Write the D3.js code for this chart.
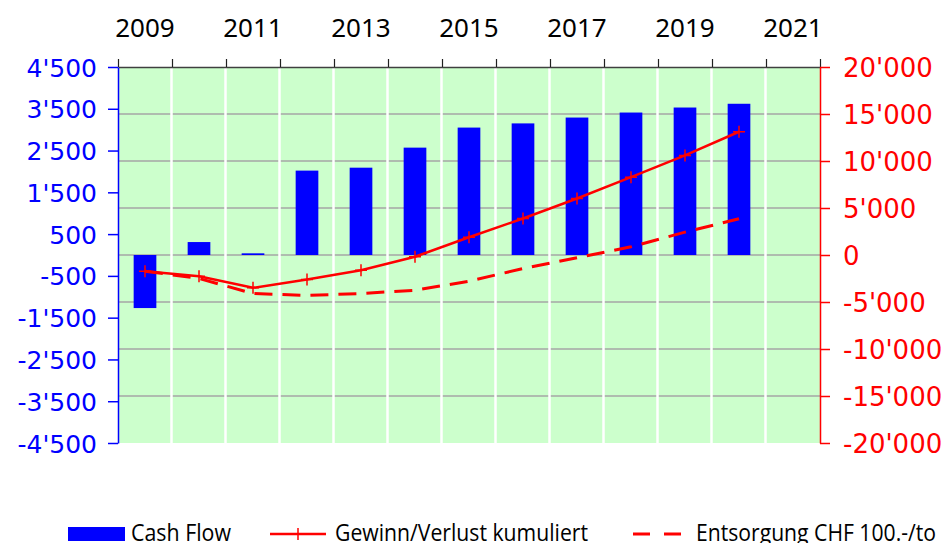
<!DOCTYPE html>
<html>
<head>
<meta charset="utf-8">
<script src="https://cdn.jsdelivr.net/npm/d3@7"></script>
<style>
  html, body { margin: 0; padding: 0; background: #ffffff; }
  #container { width: 947px; height: 543px; overflow: hidden; }
</style>
</head>
<body>
<div id="container"></div>
<script>
//### DATA ###
const years = [ 2009, 2010, 2011, 2012, 2013, 2014, 2015, 2016, 2017, 2018, 2019, 2020, 2021 ];
const yearLabels = [ 2009, 2011, 2013, 2015, 2017, 2019, 2021 ];
//--- Cash Flow (left axis), 2009 - 2020
const cashFlow = [ -1270, 310, 40, 2020, 2090, 2570, 3050, 3150, 3290, 3410, 3530, 3620 ];
//--- Gewinn/Verlust kumuliert (right axis)
const gewinnKumuliert = [ -1720, -2260, -3490, -2610, -1620, -190, 1890, 3880, 6010, 8280, 10590, 13110 ];
//--- Entsorgung CHF 100.-/to (right axis)
const entsorgung = [ -1720, -2500, -4100, -4300, -4100, -3750, -2790, -1440, -300, 870, 2430, 3850 ];
//--- Tick labels
const leftTicks = [ -4500, -3500, -2500, -1500, -500, 500, 1500, 2500, 3500, 4500 ];
const rightTicks = [ -20000, -15000, -10000, -5000, 0, 5000, 10000, 15000, 20000 ];
const legendNames = [ 'Cash Flow', 'Gewinn/Verlust kumuliert', 'Entsorgung CHF 100.-/to' ];


//### CREATE THE CHART ###
function createChart () {

  //_____ VARIABLES _____
  const margin = { top: 67, right: 127, bottom: 100, left: 118 };
  const width = 702;
  const height = 376;
  const blue = '#0000ff';
  const red = '#ff0000';
  const plotBg = '#ccffcc';
  const gridGray = '#a6a6a6';

  //>>> Swiss number format: 4'500
  const swiss = d3.formatLocale( { decimal: '.', thousands: "'", grouping: [ 3 ], currency: [ '', '' ], minus: '-' } );
  const fmt = swiss.format( ',d' );

  //_____ SVG _____
  const root = d3.select( '#container' )
    .append( 'svg' )
    .attr( 'width', 947 )
    .attr( 'height', 543 );

  const svg = root.append( 'g' )
    .attr( 'transform', `translate( ${margin.left}, ${margin.top} )` );

  //_____ SCALES _____
  const xScale = d3.scaleBand()
    .domain( years )
    .range( [ 0, width ] );

  const xEdge = d3.scaleLinear()
    .domain( [ 0, years.length ] )
    .range( [ 0, width ] );

  const yLeft = d3.scaleLinear()
    .domain( [ -4500, 4500 ] )
    .range( [ height, 0 ] );

  const yRight = d3.scaleLinear()
    .domain( [ -20000, 20000 ] )
    .range( [ height, 0 ] );

  const xMid = ( d, i ) => xScale( years[ i ] ) + xScale.bandwidth() / 2;

  //_____ PLOT AREA _____
  svg.append( 'rect' )
    .attr( 'width', width )
    .attr( 'height', height )
    .attr( 'fill', plotBg );

  //>>> Horizontal gridlines (right axis steps)
  svg.selectAll( '.grid' )
    .data( rightTicks.slice( 1, -1 ) )
    .enter().append( 'line' )
    .attr( 'class', 'grid' )
    .attr( 'x1', 0 )
    .attr( 'x2', width )
    .attr( 'y1', d => yRight( d ) )
    .attr( 'y2', d => yRight( d ) )
    .attr( 'stroke', gridGray )
    .attr( 'stroke-width', 1.5 );

  //>>> White separators between years
  svg.selectAll( '.sep' )
    .data( d3.range( 1, years.length ) )
    .enter().append( 'line' )
    .attr( 'class', 'sep' )
    .attr( 'x1', d => xEdge( d ) - 0.5 )
    .attr( 'x2', d => xEdge( d ) - 0.5 )
    .attr( 'y1', 1 )
    .attr( 'y2', height )
    .attr( 'stroke', '#ffffff' )
    .attr( 'stroke-width', 2.5 );

  //_____ BARS _____
  const barWidth = xScale.bandwidth() * 0.42;
  svg.selectAll( '.bar' )
    .data( cashFlow )
    .enter().append( 'rect' )
    .attr( 'class', 'bar' )
    .attr( 'x', ( d, i ) => xMid( d, i ) - barWidth / 2 )
    .attr( 'y', d => yLeft( Math.max( 0, d ) ) )
    .attr( 'width', barWidth )
    .attr( 'height', d => Math.abs( yLeft( d ) - yLeft( 0 ) ) )
    .attr( 'fill', blue );

  //_____ LINES _____
  const line = d3.line()
    .x( ( d, i ) => xMid( d, i ) )
    .y( d => yRight( d ) );

  svg.append( 'path' )
    .datum( entsorgung )
    .attr( 'd', line )
    .attr( 'fill', 'none' )
    .attr( 'stroke', red )
    .attr( 'stroke-width', 3 )
    .attr( 'stroke-dasharray', '18,10' );

  svg.append( 'path' )
    .datum( gewinnKumuliert )
    .attr( 'd', line )
    .attr( 'fill', 'none' )
    .attr( 'stroke', red )
    .attr( 'stroke-width', 2.5 );

  //>>> Plus markers
  const plus = 'M-6,0H6M0,-6V6';
  svg.selectAll( '.marker' )
    .data( gewinnKumuliert )
    .enter().append( 'path' )
    .attr( 'class', 'marker' )
    .attr( 'transform', ( d, i ) => `translate( ${xMid( d, i )}, ${yRight( d )} )` )
    .attr( 'd', plus )
    .attr( 'stroke', red )
    .attr( 'stroke-width', 1.5 );

  //_____ AXES _____
  //>>> Top axis: ticks at year boundaries
  svg.append( 'g' )
    .call( d3.axisTop( xEdge ).ticks( years.length ).tickFormat( '' ).tickSize( 8 ).tickSizeOuter( 0 ) )
    .call( g => g.select( '.domain' ).attr( 'stroke', '#404040' ).attr( 'stroke-width', 1.5 ) )
    .call( g => g.selectAll( '.tick line' ).attr( 'stroke', '#202020' ).attr( 'stroke-width', 1.2 ) );

  //>>> Top axis: year labels
  svg.append( 'g' )
    .call( d3.axisTop( xScale ).tickValues( yearLabels ).tickSize( 0 ).tickPadding( 30 ) )
    .call( g => g.select( '.domain' ).remove() )
    .call( g => g.selectAll( 'text' )
      .attr( 'fill', '#000000' )
      .style( 'font-family', '"Noto Sans", sans-serif' )
      .style( 'font-size', '26px' ) );

  //>>> Left axis
  svg.append( 'g' )
    .call( d3.axisLeft( yLeft ).tickValues( leftTicks ).tickFormat( fmt ).tickSize( 10 ).tickPadding( 11 ).tickSizeOuter( 0 ) )
    .call( g => g.select( '.domain' ).attr( 'stroke', blue ).attr( 'stroke-width', 1.5 ) )
    .call( g => g.selectAll( '.tick line' ).attr( 'stroke', blue ).attr( 'stroke-width', 1.5 ) )
    .call( g => g.selectAll( 'text' )
      .attr( 'fill', blue )
      .attr( 'dy', '0.36em' )
      .style( 'font-family', '"DejaVu Sans", sans-serif' )
      .style( 'font-size', '25px' ) );

  //>>> Right axis
  svg.append( 'g' )
    .attr( 'transform', `translate( ${width}, 0 )` )
    .call( d3.axisRight( yRight ).tickValues( rightTicks ).tickFormat( fmt ).tickSize( 10 ).tickPadding( 13 ).tickSizeOuter( 0 ) )
    .call( g => g.select( '.domain' ).attr( 'stroke', red ).attr( 'stroke-width', 1.5 ) )
    .call( g => g.selectAll( '.tick line' ).attr( 'stroke', red ).attr( 'stroke-width', 1.5 ) )
    .call( g => g.selectAll( 'text' )
      .attr( 'fill', red )
      .attr( 'dy', '0.36em' )
      .style( 'font-family', '"DejaVu Sans", sans-serif' )
      .style( 'font-size', '26px' ) );

  //_____ LEGEND _____
  const legend = root.append( 'g' )
    .attr( 'id', 'legend' )
    .style( 'font-family', '"Open Sans", sans-serif' )
    .style( 'font-size', '23px' );

  const legendY = 534;

  //>>> Cash Flow
  legend.append( 'rect' )
    .attr( 'x', 68 ).attr( 'y', legendY - 7 )
    .attr( 'width', 57 ).attr( 'height', 14 )
    .attr( 'fill', blue );

  //>>> Gewinn/Verlust
  legend.append( 'line' )
    .attr( 'x1', 270 ).attr( 'x2', 326 )
    .attr( 'y1', legendY ).attr( 'y2', legendY )
    .attr( 'stroke', red ).attr( 'stroke-width', 2.5 );
  legend.append( 'path' )
    .attr( 'transform', `translate( 298, ${legendY} )` )
    .attr( 'd', plus )
    .attr( 'stroke', red )
    .attr( 'stroke-width', 1.5 );

  //>>> Entsorgung
  legend.append( 'line' )
    .attr( 'x1', 633 ).attr( 'x2', 681 )
    .attr( 'y1', legendY ).attr( 'y2', legendY )
    .attr( 'stroke', red ).attr( 'stroke-width', 3 )
    .attr( 'stroke-dasharray', '17,14' );

  const legendText = [ { x: 131, w: 100 }, { x: 335, w: 253 }, { x: 696, w: 240 } ];
  legend.selectAll( '.legend-label' )
    .data( legendNames )
    .enter().append( 'text' )
    .attr( 'class', 'legend-label' )
    .attr( 'x', ( d, i ) => legendText[ i ].x )
    .attr( 'y', 541 )
    .attr( 'textLength', ( d, i ) => legendText[ i ].w )
    .attr( 'lengthAdjust', 'spacingAndGlyphs' )
    .attr( 'fill', '#000000' )
    .text( d => d );
}

createChart();
</script>
</body>
</html>
